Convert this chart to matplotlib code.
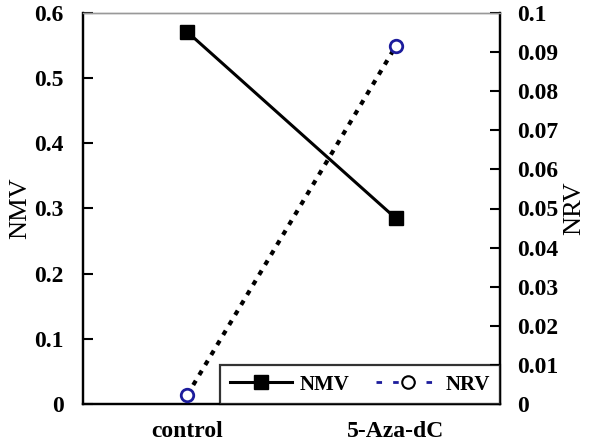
import matplotlib
matplotlib.use("Agg")
from matplotlib import pyplot as plt
from matplotlib.lines import Line2D

# data
groups = ['control', '5-Aza-dC']
nmv = [0.571, 0.285]
nrv = [0.0023, 0.0915]

plt.rcParams['font.family'] = ['Liberation Serif', 'DejaVu Serif']

fig = plt.figure(figsize=(6.01, 4.47), dpi=100)
ax = fig.add_axes([83 / 601, 1 - 404 / 447, (500 - 83) / 601, (404 - 13) / 447])
ax2 = ax.twinx()

x = list(range(len(groups)))

# NMV - solid black with squares
ax.plot(x, nmv, color='black', lw=2.2, marker='s', ms=10, mfc='black', mec='black', zorder=3)
ax.set_xlim(-0.5, 1.5)
ax.set_ylim(0, 0.6)
ax.set_yticks([0, 0.1, 0.2, 0.3, 0.4, 0.5, 0.6])
ax.set_yticklabels(['0', '0.1', '0.2', '0.3', '0.4', '0.5', '0.6'])
ax.set_xticks(x)
ax.set_xticklabels(groups)

# NRV - dotted black with open blue circles
ax2.plot(x, nrv, color='black', lw=3, ls=(0, (1.2, 1.6)), marker='o', ms=9,
         mfc='white', mec='#1c1c9c', mew=2, zorder=3)
ax2.set_ylim(0, 0.1)
ticks2 = [0, 0.01, 0.02, 0.03, 0.04, 0.05, 0.06, 0.07, 0.08, 0.09, 0.1]
ax2.set_yticks(ticks2)
ax2.set_yticklabels(['0'] + ['%g' % t for t in ticks2[1:]])

for a in (ax, ax2):
    for s in ['left', 'right', 'bottom']:
        a.spines[s].set_linewidth(1.6)
        a.spines[s].set_color('black')
    a.spines['top'].set_color('#999999')
    a.spines['top'].set_linewidth(1.0)

ax.tick_params(axis='y', direction='in', length=7, width=1.5, labelsize=17, pad=14)
ax.tick_params(axis='x', length=0, labelsize=17, pad=12)
ax2.tick_params(axis='y', direction='in', length=7, width=1.5, labelsize=17, pad=12)
for lab in ax.get_yticklabels() + ax.get_xticklabels() + ax2.get_yticklabels():
    lab.set_fontweight('bold')

ax.set_ylabel('NMV', fontsize=19, labelpad=2)
ax2.set_ylabel('NRV', fontsize=19, labelpad=4)

handles = [
    Line2D([], [], color='black', lw=2.2, marker='s', ms=10, mfc='black'),
    Line2D([], [], color='#1c1c9c', lw=2, ls=(0, (2, 4)), marker='o', ms=9,
           mfc='white', mec='black', mew=1.5),
]
leg = ax2.legend(handles, ['NMV', 'NRV'], loc='lower right', ncol=2,
                 bbox_to_anchor=(1.0, 0.0), borderaxespad=0, frameon=True,
                 fancybox=False, edgecolor='black', handlelength=3.0,
                 handletextpad=0.35, columnspacing=1.3,
                 prop={'weight': 'bold', 'size': 15}, borderpad=0.45)
leg.get_frame().set_linewidth(1.6)

fig.savefig('out.png', dpi=100)
